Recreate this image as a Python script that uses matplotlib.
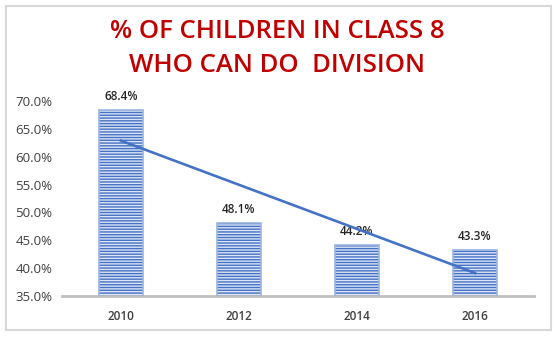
import numpy as np
import matplotlib
matplotlib.use("Agg")
import matplotlib.pyplot as plt
from matplotlib.patches import Rectangle

# data
years = ["2010", "2012", "2014", "2016"]
pct = [68.4, 48.1, 44.2, 43.3]
yticks = [35, 40, 45, 50, 55, 60, 65, 70]

BLUE = "#4472C4"
TEXT = "#404040"

plt.rcParams["font.family"] = ["Open Sans", "DejaVu Sans"]
plt.rcParams["hatch.linewidth"] = 1.0

fig = plt.figure(figsize=(5.6, 3.44), dpi=100)
ax = fig.add_axes([62 / 560, 1 - 296 / 344, 472 / 560, 195 / 344])

# outer chart border
fig.patches.append(Rectangle((6 / 560, 1 - 330 / 344), 545 / 560, 324 / 344,
                             transform=fig.transFigure, fill=False,
                             edgecolor="#D9D9D9", linewidth=1.5))

x = np.arange(len(years))
w = 0.38
ax.bar(x, pct, width=w, bottom=0, color="#DCE4F5", edgecolor=BLUE,
       linewidth=0, hatch="------", zorder=2)
ax.bar(x, pct, width=w, fill=False, edgecolor="#9DB4E0", linewidth=1.2, zorder=3)

# linear trendline
k, b = np.polyfit(x, pct, 1)
ax.plot(x, k * x + b, color=BLUE, linewidth=1.9, zorder=4)

for xi, v in zip(x, pct):
    ax.annotate(f"{v:.1f}%", (xi, v), xytext=(0, 5), textcoords="offset points",
                ha="center", va="bottom", fontsize=8.5, fontweight="semibold",
                color="#262626", annotation_clip=False)

ax.set_xlim(-0.5, len(years) - 0.5)
ax.set_ylim(35, 70)
ax.set_yticks(yticks)
ax.set_yticklabels([f"{t:.1f}%" for t in yticks])
ax.set_xticks(x)
ax.set_xticklabels(years, fontweight="semibold")
ax.tick_params(axis="both", length=0, labelsize=8.5, colors=TEXT)
ax.tick_params(axis="y", labelsize=9.5, pad=7)
ax.tick_params(axis="x", pad=10)

for s in ["top", "right", "left"]:
    ax.spines[s].set_visible(False)
ax.spines["bottom"].set_color("#BFBFBF")
ax.spines["bottom"].set_linewidth(2)

for yy, line in [(32, "% OF CHILDREN IN CLASS 8"), (66, "WHO CAN DO  DIVISION")]:
    fig.text(0.495, 1 - yy / 344, line, ha="center", va="center",
             fontsize=18.5, fontweight="semibold", color="#C00000")

fig.savefig("out.png", dpi=100)
